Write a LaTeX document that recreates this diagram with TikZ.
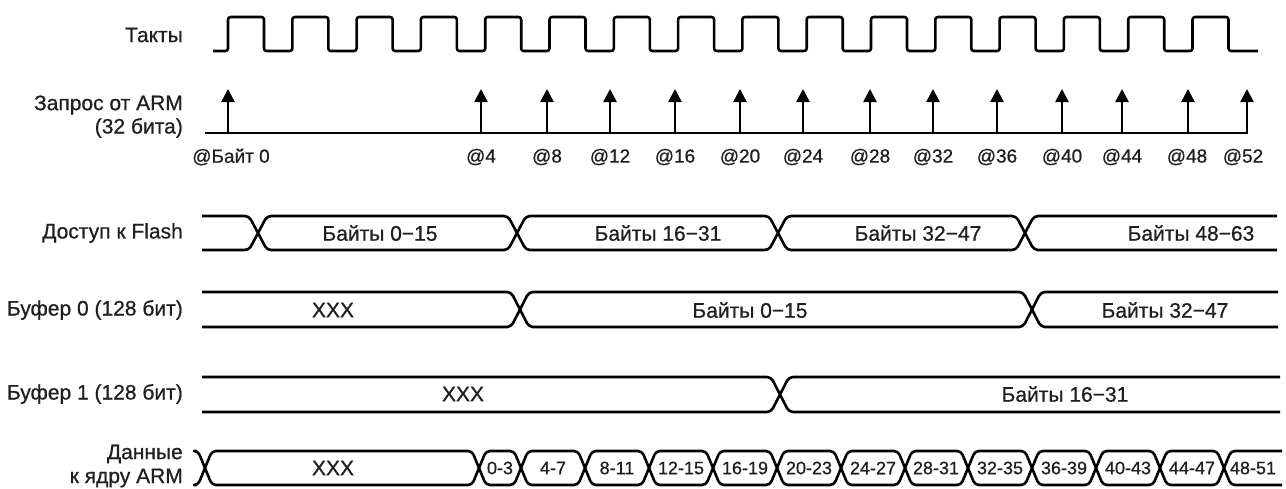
\documentclass[tikz,border=0pt]{standalone}
\usepackage{fontspec}
\setmainfont{Liberation Sans}[FakeBold=0.7]
\usetikzlibrary{arrows.meta}
\definecolor{ink}{gray}{0.12}
\newcommand\busrow[8]{%
  \draw[bus] (#4,#1) \foreach \c [count=\i] in {#6} { -- ({\c-#3},{ifthenelse(isodd(\i),#1,#2)}) -- ({\c+#3},{ifthenelse(isodd(\i),#2,#1)}) } -- (#5,#7);
  \draw[bus] (#4,#2) \foreach \c [count=\i] in {#6} { -- ({\c-#3},{ifthenelse(isodd(\i),#2,#1)}) -- ({\c+#3},{ifthenelse(isodd(\i),#1,#2)}) } -- (#5,#8);
}
\begin{document}
\begin{tikzpicture}[x=1pt,y=-1pt,line join=round,
  wave/.style={line width=2.6pt,rounded corners=2.5pt},
  bus/.style={line width=2.6pt,rounded corners=4pt},
  reqline/.style={line width=2.6pt},
  req/.style={line width=2.6pt,-{Triangle[length=13pt,width=13pt]}},
  lbl/.style={anchor=east,font=\fontsize{21}{24}\selectfont,text=ink,inner sep=0pt},
  val/.style={font=\fontsize{21}{24}\selectfont,text=ink,inner sep=0pt},
  addr/.style={font=\fontsize{19}{22}\selectfont,text=ink,inner sep=0pt},
  cell/.style={font=\fontsize{18}{20}\selectfont,text=ink,inner sep=0pt}]
\useasboundingbox (0,0) rectangle (1286,488);

% row labels
\node[lbl] (lclk) at (183,35) {Такты};
\node[lbl] (lreqa) at (183,105) {Запрос от ARM};
\node[lbl] (lreqb) at (183,128) {(32 бита)};
\node[lbl] (lflash) at (183,233) {Доступ к Flash};
\node[lbl] (lbufa) at (183,310) {Буфер 0 (128 бит)};
\node[lbl] (lbufb) at (183,394) {Буфер 1 (128 бит)};
\node[lbl] (ldata) at (183,454) {Данные};
\node[lbl] (lcore) at (183,478) {к ядру ARM};

% clock
\draw[wave] (213,51) \foreach \k in {0,...,15} { -- ({228+64.3*\k},51) -- ({228+64.3*\k},17) -- ({264+64.3*\k},17) -- ({264+64.3*\k},51) } -- (1258,51);

% requests
\draw[reqline] (205,133) -- (1247,133);
\foreach \x in {228,481,547,610,675,740,803,870,933,997,1062,1122,1188,1247}
  \draw[req] (\x,134) -- (\x,89);
\node[addr] (r0) at (231,157) {@Байт 0};
\foreach \x/\t in {481/4,547/8,610/12,675/16,740/20,803/24,870/28,933/32,997/36,1062/40,1122/44,1187/48,1243/52}
  \node[addr] (r\t) at (\x,157) {@\t};

% Flash access
\busrow{216}{250}{9}{202}{1277}{258,517,778,1025}{216}{250}
\node[val] (f0) at (380,233) {Байты 0−15};
\node[val] (f1) at (658,233) {Байты 16−31};
\node[val] (f2) at (918,233) {Байты 32−47};
\node[val] (f3) at (1191,233) {Байты 48−63};

% Buffer 0
\busrow{292}{327}{9}{202}{1278}{520,1032}{292}{327}
\node[val] (b0a) at (333,310) {XXX};
\node[val] (b0b) at (750,310) {Байты 0−15};
\node[val] (b0c) at (1165,310) {Байты 32−47};

% Buffer 1
\busrow{377}{412}{9}{202}{1280}{780}{412}{377}
\node[val] (b1a) at (463,394) {XXX};
\node[val] (b1b) at (1065,394) {Байты 16−31};

% Data to ARM core
\busrow{451}{485}{7}{197}{1282}{205,479,521,585,649,713,777,841,905,968,1032,1096,1160,1224}{451}{485}
\node[val] (d0) at (333,468) {XXX};
\foreach \x/\t [count=\n] in {500/0-3,553/4-7,617/8-11,681/12-15,745/16-19,809/20-23,873/24-27,936/28-31,1000/32-35,1064/36-39,1128/40-43,1192/44-47,1253/48-51}
  \node[cell] (d\n) at (\x,468) {\t};
\end{tikzpicture}
\end{document}
